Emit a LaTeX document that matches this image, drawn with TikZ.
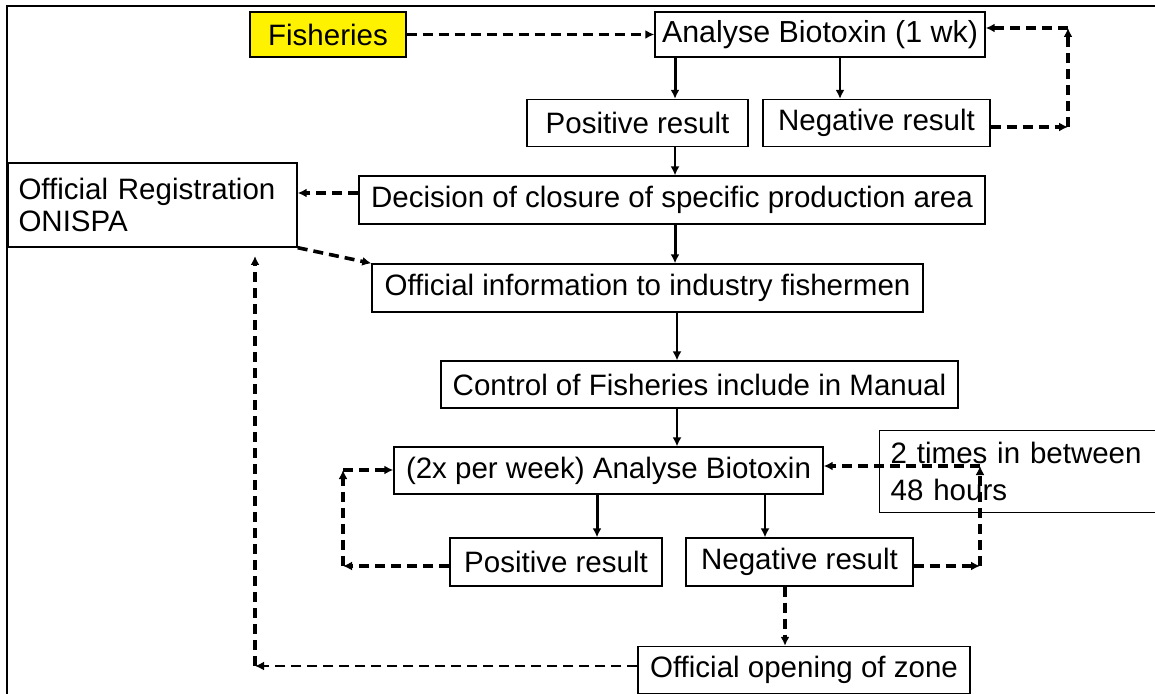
\documentclass[tikz,border=0pt]{standalone}
\usepackage{fontspec}
\setmainfont{Liberation Sans}
\usepackage{tikz}
\usetikzlibrary{positioning,calc}
\usetikzlibrary{arrows.meta}
\tikzstyle{box} = [draw, line width=0.7pt, inner sep=0pt, minimum height=23.5pt, font=\fontsize{14.75pt}{16pt}\selectfont]
\tikzstyle{arrow} = [line width=0.75pt,->,>={Latex[length=4.5pt,width=4.5pt]}]
\tikzstyle{thickarrow} = [arrow, line width=1.5pt]
\tikzstyle{dasharrow} = [arrow, line width=1.8pt, dash pattern=on 5pt off 3pt]

\begin{document}
\begin{tikzpicture}[x=0.5pt,y=-0.5pt]
\useasboundingbox (0,0) rectangle (1155,694);
\draw[line width=1pt] (7,720) -- (7,6) -- (1180,6);

% first week
\node[box, fill=yellow, minimum width=78pt, minimum height=22.5pt] (fish) at (328,34.5) {Fisheries};
\node[box, minimum width=165pt, minimum height=22.5pt, font=\fontsize{15.2pt}{16pt}\selectfont] (an1) at (820,34.5) {Analyse Biotoxin (1 wk)};
\node[box, minimum width=110.5pt] (pos1) at (637.5,123) {Positive result};
\node[box, minimum width=113.5pt] (neg1) at (876.5,123) {Negative result};
\node[box, minimum width=144.5pt, minimum height=42pt, text width=134pt, inner xsep=5.25pt, align=left] (reg) at (152.5,205) {Official Registration\\ONISPA};
\node[box, minimum width=313pt, minimum height=24pt] (dec) at (672,200) {Decision of closure of specific production area};
\node[box, minimum width=275.5pt, minimum height=24pt] (info) at (647.5,288) {Official information to industry fishermen};
\node[box, minimum width=258.5pt] (ctrl) at (699.5,384.5) {Control of Fisheries include in Manual};

% twice per week
\node[box, minimum width=214.5pt] (an2) at (608.5,470.5) {(2x per week) Analyse Biotoxin};
\node[box, anchor=north west, minimum height=41pt, text width=140pt, inner xsep=5.5pt, align=left, font=\fontsize{14.75pt}{18.5pt}\selectfont] (hrs) at (879,430) {2 times in between\\48 hours};
\node[box, minimum width=106pt, minimum height=24pt] (pos2) at (556,562) {Positive result};
\node[box, minimum width=113.5pt, minimum height=24pt] (neg2) at (799.5,562) {Negative result};
\node[box, minimum width=166pt] (open) at (804,670) {Official opening of zone};

\coordinate (c1) at (1068,127);
\coordinate (c2) at (1068,28);
\coordinate (c3) at (343,566);
\coordinate (c4) at (343,470);
\coordinate (c5) at (980,566);
\coordinate (c6) at (980,466);
\coordinate (c7) at (255,666);
\coordinate (c8) at (255,256);

\draw[dasharrow] (fish.east) -- (an1.west);
\draw[thickarrow] (675,0 |- an1.south) -- (675,0 |- pos1.north);
\draw[arrow] (840,0 |- an1.south) -- (840,0 |- neg1.north);
\draw[dasharrow] (neg1.east |- c1) -- (c1);
\draw[dasharrow] (c1) -- (c2);
\draw[dasharrow] (c2) -- (an1.east |- c2);
\draw[arrow] (675,0 |- pos1.south) -- (675,0 |- dec.north);
\draw[dasharrow] (dec.west |- 0,193) -- (reg.east |- 0,193);
\draw[thickarrow] (675,0 |- dec.south) -- (675,0 |- info.north);
\draw[dasharrow] (reg.south east) -- (info.north west);
\draw[arrow] (677,0 |- info.south) -- (677,0 |- ctrl.north);
\draw[arrow] (677,0 |- ctrl.south) -- (677,0 |- an2.north);
\draw[thickarrow] (597,0 |- an2.south) -- (597,0 |- pos2.north);
\draw[arrow] (765,0 |- an2.south) -- (765,0 |- neg2.north);
\draw[dasharrow] (pos2.west |- c3) -- (c3);
\draw[dasharrow] (c3) -- (c4);
\draw[dasharrow] (c4) -- (an2.west |- c4);
\draw[dasharrow] (neg2.east |- c5) -- (c5);
\draw[dasharrow] (c5) -- (c6);
\draw[dasharrow] (c6) -- (an2.east |- c6);
\draw[dasharrow] (785,0 |- neg2.south) -- (785,0 |- open.north);
\draw[dasharrow, line width=1.2pt] (open.west |- c7) -- (c7);
\draw[dasharrow] (c7) -- (c8);
\end{tikzpicture}
\end{document}
